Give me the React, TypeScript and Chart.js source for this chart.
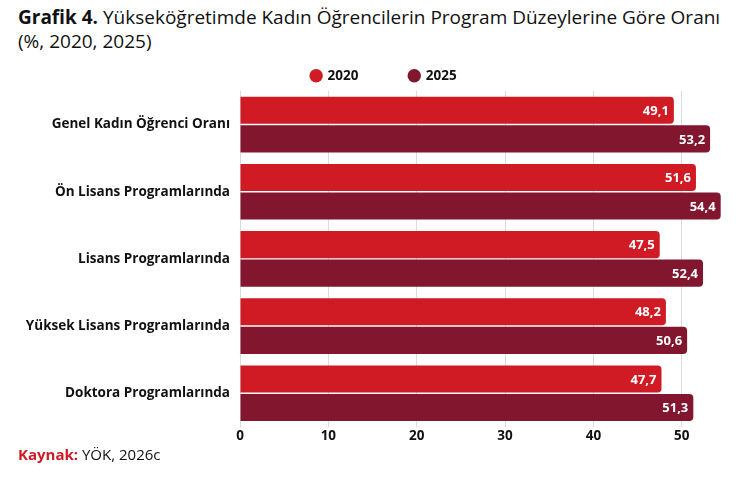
import { useEffect, useRef } from "react"
import { Chart, registerables } from "chart.js"

Chart.register(...registerables)

const categories = [
  "Genel Kadın Öğrenci Oranı",
  "Ön Lisans Programlarında",
  "Lisans Programlarında",
  "Yüksek Lisans Programlarında",
  "Doktora Programlarında",
]
const values2020 = [49.1, 51.6, 47.5, 48.2, 47.7]
const values2025 = [53.2, 54.4, 52.4, 50.6, 51.3]
const seriesLabels = ["2020", "2025"]
const xTicks = [0, 10, 20, 30, 40, 50]

const RED = "#d01b24"
const DARK = "#82162e"
const FONT = "'Open Sans', sans-serif"

// white value labels at the inner end of each bar
const valueLabels = {
  id: "valueLabels",
  afterDatasetsDraw(chart: Chart) {
    const { ctx } = chart
    ctx.save()
    ctx.font = `bold 13px ${FONT}`
    ctx.fillStyle = "#ffffff"
    ctx.textAlign = "right"
    ctx.textBaseline = "middle"
    chart.data.datasets.forEach((ds, i) => {
      const meta = chart.getDatasetMeta(i)
      meta.data.forEach((bar, j) => {
        const v = ds.data[j] as number
        ctx.fillText(v.toFixed(1).replace(".", ","), bar.x - 5, bar.y + 1)
      })
    })
    ctx.restore()
  },
}

// wide gap between legend items, fixed legend box height, small nudge
const legendLayout = {
  id: "legendLayout",
  afterInit(chart: any) {
    const legend = chart.legend
    if (!legend) return
    const fit = legend.fit
    legend.fit = function () {
      fit.call(this)
      this.height = 72
    }
    const draw = legend.draw
    legend.draw = function () {
      const c = this.ctx
      c.save()
      c.translate(12, -1)
      draw.call(this)
      c.restore()
    }
  },
}

export default function App() {
  const chartRef = useRef<HTMLCanvasElement>(null)
  const chartInstance = useRef<Chart | null>(null)

  useEffect(() => {
    document.body.style.margin = "0"
    if (!chartRef.current) return
    if (chartInstance.current) chartInstance.current.destroy()
    const ctx = chartRef.current.getContext("2d")
    if (!ctx) return

    chartInstance.current = new Chart(ctx, {
      type: "bar",
      data: {
        labels: categories,
        datasets: [
          {
            label: seriesLabels[0],
            data: values2020,
            backgroundColor: RED,
            borderRadius: 4,
            barPercentage: 0.95,
            categoryPercentage: 0.85,
          },
          {
            label: seriesLabels[1],
            data: values2025,
            backgroundColor: DARK,
            borderRadius: 4,
            barPercentage: 0.95,
            categoryPercentage: 0.85,
          },
        ],
      },
      options: {
        indexAxis: "y",
        animation: false,
        responsive: false,
        layout: { padding: { left: 18, right: 18, top: 0, bottom: 0 } },
        scales: {
          x: {
            min: 0,
            max: 55,
            afterBuildTicks: (scale) => {
              scale.ticks = xTicks.map((v) => ({ value: v }))
            },
            grid: { color: "#dcdcdc", drawTicks: false },
            border: { display: false },
            ticks: {
              color: "#111",
              font: { family: FONT, weight: "bold", size: 13.5 },
              padding: 1,
            },
          },
          y: {
            afterFit: (scale) => {
              scale.width = 222
            },
            grid: { display: false, drawTicks: false },
            border: { display: false },
            ticks: {
              color: "#111",
              font: { family: FONT, weight: "bold", size: 13.5 },
              padding: 10,
            },
          },
        },
        plugins: {
          legend: {
            position: "top",
            labels: {
              usePointStyle: true,
              pointStyle: "circle",
              boxWidth: 9.5,
              boxHeight: 9.5,
              padding: 51,
              color: "#111",
              font: { family: FONT, weight: "bold", size: 13.5 },
            },
          },
          tooltip: { enabled: false },
        },
      },
      plugins: [valueLabels, legendLayout],
    })

    return () => {
      if (chartInstance.current) {
        chartInstance.current.destroy()
        chartInstance.current = null
      }
    }
  }, [])

  return (
    <div style={{ position: "relative", width: 744, height: 491, background: "#fff", fontFamily: FONT }}>
      <div style={{ position: "absolute", left: 18, top: 5, fontSize: 19, lineHeight: "24px", color: "#111" }}>
        <b>Grafik 4.</b> Yükseköğretimde Kadın Öğrencilerin Program Düzeylerine Göre Oranı
        <br />
        (%, 2020, 2025)
      </div>
      <canvas ref={chartRef} width={744} height={426} style={{ position: "absolute", left: 0, top: 19 }} />
      <div style={{ position: "absolute", left: 18, top: 444, fontSize: 15, color: "#111" }}>
        <b style={{ color: RED }}>Kaynak:</b> YÖK, 2026c
      </div>
    </div>
  )
}
